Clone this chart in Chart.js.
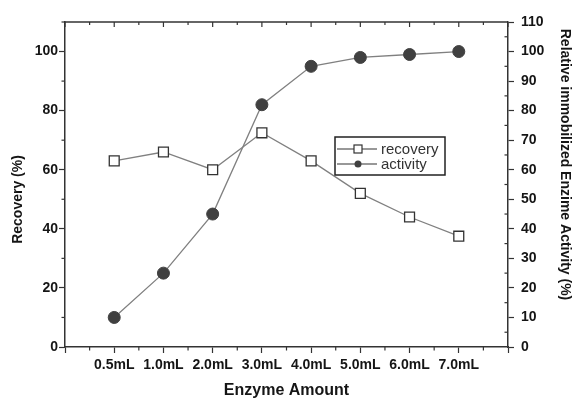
<!doctype html>
<html lang="en">
<head>
<meta charset="utf-8">
<title>Enzyme amount: recovery and activity</title>
<style>
  html, body { margin: 0; padding: 0; background: #fff; }
</style>
</head>
<body>
<canvas id="enzymeChart" width="572" height="400"></canvas>

<script src="https://cdn.jsdelivr.net/npm/chart.js"></script>
<script>
  // values
  var categories = ['0.5mL', '1.0mL', '2.0mL', '3.0mL', '4.0mL', '5.0mL', '6.0mL', '7.0mL'];
  var recovery = [63, 66, 60, 72.5, 63, 52, 44, 37.5];
  var activity = [10, 25, 45, 82, 95, 98, 99, 100];
  var leftTicks = [0, 20, 40, 60, 80, 100];
  var rightTicks = [0, 10, 20, 30, 40, 50, 60, 70, 80, 90, 100, 110];

  var FONT = '"Liberation Sans", Arial, sans-serif';
  var INK = '#151515';
  Chart.defaults.font.family = FONT;

  // categories sit at x = 1..8 on a 0..9 linear axis
  function toPoints(values) {
    return values.map(function (v, i) { return { x: i + 1, y: v }; });
  }

  function isMajorX(v) { return Number.isInteger(v); }
  function isMajorLeft(v) { return leftTicks.indexOf(v) >= 0; }
  function isMajorRight(v) { return v % 10 === 0; }

  // frame top edge, short minor ticks, y titles and the boxed legend
  var extras = {
    id: 'extras',
    afterDraw: function (chart) {
      var ctx = chart.ctx;
      var area = chart.chartArea;
      var xs = chart.scales.x, ys = chart.scales.y;
      ctx.save();

      ctx.strokeStyle = '#333';
      ctx.lineWidth = 1.5;
      ctx.beginPath();
      ctx.moveTo(area.left, area.top);
      ctx.lineTo(area.right, area.top);
      ctx.stroke();

      ctx.lineWidth = 1.2;
      xs.ticks.forEach(function (t) {
        var px = xs.getPixelForValue(t.value);
        var len = isMajorX(t.value) ? 5 : 3;
        ctx.beginPath();
        ctx.moveTo(px, area.top);
        ctx.lineTo(px, area.top + len);
        ctx.stroke();
        if (!isMajorX(t.value)) {
          ctx.beginPath();
          ctx.moveTo(px, area.bottom);
          ctx.lineTo(px, area.bottom + 3.5);
          ctx.stroke();
        }
      });
      ys.ticks.forEach(function (t) {
        if (isMajorLeft(t.value)) return;
        var py = ys.getPixelForValue(t.value);
        ctx.beginPath();
        ctx.moveTo(area.left, py);
        ctx.lineTo(area.left - 3.5, py);
        ctx.stroke();
      });
      // half steps on the right axis
      var ry = chart.scales.y1;
      for (var v = 5; v < 110; v += 10) {
        var py2 = ry.getPixelForValue(v);
        ctx.beginPath();
        ctx.moveTo(area.right, py2);
        ctx.lineTo(area.right - 3.5, py2);
        ctx.stroke();
      }

      // axis titles
      ctx.fillStyle = INK;
      ctx.font = 'bold 14px ' + FONT;
      ctx.textAlign = 'center';
      ctx.textBaseline = 'middle';
      ctx.save();
      ctx.translate(18, (area.top + area.bottom) / 2 + 15);
      ctx.rotate(-Math.PI / 2);
      ctx.fillText('Recovery (%)', 0, 0);
      ctx.restore();
      ctx.save();
      ctx.translate(565, (area.top + area.bottom) / 2 - 20);
      ctx.rotate(Math.PI / 2);
      ctx.fillText('Relative immobilized Enzime Activity (%)', 0, 0);
      ctx.restore();

      // legend
      var bx = 335, by = 137, bw = 110, bh = 38;
      ctx.strokeStyle = '#222';
      ctx.lineWidth = 1.5;
      ctx.strokeRect(bx, by, bw, bh);

      ctx.font = '15px ' + FONT;
      ctx.textAlign = 'left';
      var rows = [
        { label: 'recovery', y: by + 12, style: 'square' },
        { label: 'activity', y: by + 27, style: 'dot' }
      ];
      rows.forEach(function (r) {
        ctx.strokeStyle = '#333';
        ctx.lineWidth = 1.2;
        ctx.beginPath();
        ctx.moveTo(bx + 2, r.y);
        ctx.lineTo(bx + 42, r.y);
        ctx.stroke();
        if (r.style === 'square') {
          ctx.fillStyle = '#fff';
          ctx.fillRect(bx + 19, r.y - 4, 8, 8);
          ctx.strokeRect(bx + 19, r.y - 4, 8, 8);
        } else {
          ctx.fillStyle = '#404040';
          ctx.beginPath();
          ctx.arc(bx + 23, r.y, 3.5, 0, Math.PI * 2);
          ctx.fill();
        }
        ctx.fillStyle = '#333';
        ctx.fillText(r.label, bx + 46, r.y + 1);
      });

      ctx.restore();
    }
  };

  // library draws only the long ticks; minor ones come from the plugin
  function grid(isMajor) {
    return {
      display: true,
      drawOnChartArea: false,
      drawTicks: true,
      tickLength: 6,
      tickWidth: 1.2,
      tickColor: function (c) { return c.tick && isMajor(c.tick.value) ? '#333' : 'rgba(0,0,0,0)'; }
    };
  }
  var axisBorder = { display: true, color: '#333', width: 1.5 };

  var ctx = document.getElementById('enzymeChart').getContext('2d');
  window.enzymeChart = new Chart(ctx, {
    type: 'line',
    data: {
      datasets: [{
        label: 'recovery',
        data: toPoints(recovery),
        yAxisID: 'y',
        borderColor: '#808080',
        borderWidth: 1.3,
        pointStyle: 'rect',
        pointRadius: 7,
        pointBackgroundColor: '#fff',
        pointBorderColor: '#333',
        pointBorderWidth: 1.3,
        tension: 0
      }, {
        label: 'activity',
        data: toPoints(activity),
        yAxisID: 'y1',
        borderColor: '#808080',
        borderWidth: 1.3,
        pointStyle: 'circle',
        pointRadius: 6,
        pointBackgroundColor: '#404040',
        pointBorderColor: '#404040',
        pointBorderWidth: 1,
        tension: 0
      }]
    },
    options: {
      responsive: false,
      animation: false,
      layout: { padding: { top: 22, left: 0, right: 0, bottom: 0 } },
      plugins: {
        legend: { display: false },
        tooltip: { enabled: false }
      },
      scales: {
        x: {
          type: 'linear',
          min: 0,
          max: categories.length + 1,
          grid: grid(isMajorX),
          border: axisBorder,
          afterFit: function (s) { s.height = 53; },
          ticks: {
            stepSize: 0.5,
            autoSkip: false,
            maxRotation: 0,
            padding: 4,
            color: INK,
            font: { size: 14, weight: 'bold' },
            callback: function (v) {
              if (Number.isInteger(v) && v >= 1 && v <= categories.length) return categories[v - 1];
              return '';
            }
          },
          title: {
            display: true,
            text: 'Enzyme Amount',
            color: INK,
            font: { size: 16, weight: 'bold' },
            padding: { top: 0, bottom: 0 }
          }
        },
        y: {
          position: 'left',
          min: 0,
          max: 110,
          grid: grid(isMajorLeft),
          border: axisBorder,
          afterFit: function (s) { s.width = 65; },
          ticks: {
            stepSize: 10,
            autoSkip: false,
            padding: 1,
            color: INK,
            font: { size: 14, weight: 'bold' },
            callback: function (v) { return leftTicks.indexOf(v) >= 0 ? v : ''; }
          }
        },
        y1: {
          position: 'right',
          min: 0,
          max: 110,
          grid: grid(isMajorRight),
          border: axisBorder,
          afterFit: function (s) { s.width = 64; },
          ticks: {
            stepSize: 10,
            autoSkip: false,
            padding: 7,
            color: INK,
            font: { size: 14, weight: 'bold' },
            callback: function (v) { return rightTicks.indexOf(v) >= 0 ? v : ''; }
          }
        }
      }
    },
    plugins: [extras]
  });
</script>
</body>
</html>
